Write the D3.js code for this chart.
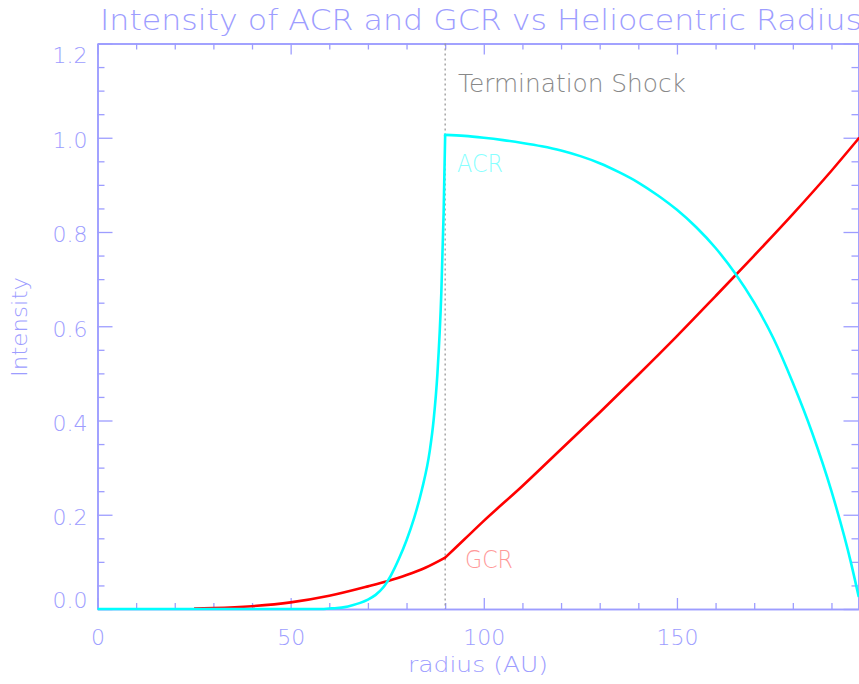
<!DOCTYPE html>
<html>
<head>
<meta charset="utf-8">
<script src="https://cdn.jsdelivr.net/npm/d3@7"></script>
<style>
  html, body { margin: 0; padding: 0; background: #fff; overflow: hidden; }
  svg { display: block; }
  text { font-family: "DejaVu Sans", sans-serif; font-weight: 200; }
</style>
</head>
<body>
<svg width="859" height="684"></svg>
<script>
// data
var acrRadius = [0, 50, 58, 60, 62, 64, 66, 68, 70, 72, 74, 76, 78, 80, 82, 84, 86, 87, 88, 89, 89.6, 90,
    95, 100, 105, 110, 115, 120, 125, 130, 135, 140, 145, 150, 155, 160, 165, 170, 175, 180, 185, 190, 195, 197]
var acrIntensity = [0, 0, 0, 0.001, 0.002, 0.004, 0.008, 0.013, 0.020, 0.030, 0.046, 0.072, 0.106, 0.146, 0.194, 0.254, 0.335, 0.40, 0.50, 0.67, 0.84, 1.006,
    1.004, 1.000, 0.995, 0.989, 0.982, 0.973, 0.961, 0.946, 0.927, 0.905, 0.878, 0.847, 0.810, 0.766, 0.713, 0.650, 0.574, 0.480, 0.374, 0.250, 0.100, 0.028]

var gcrRadius = [25, 30, 40, 50, 60, 70, 75, 80, 85, 90, 95, 100, 110, 120, 130, 140, 150, 160, 170, 180, 190, 197]
var gcrIntensity = [0.001, 0.002, 0.006, 0.014, 0.028, 0.048, 0.059, 0.072, 0.088, 0.109, 0.148, 0.187, 0.261, 0.339, 0.417, 0.497, 0.579, 0.664, 0.75, 0.838, 0.93, 0.998]

var xMajor = [0, 50, 100, 150]
var xMinor = [10, 20, 30, 40, 60, 70, 80, 90, 110, 120, 130, 140, 160, 170, 180, 190]
var yMajor = [0, 0.2, 0.4, 0.6, 0.8, 1.0, 1.2]
var yMinor = [0.05, 0.1, 0.15, 0.25, 0.3, 0.35, 0.45, 0.5, 0.55, 0.65, 0.7, 0.75, 0.85, 0.9, 0.95, 1.05, 1.1, 1.15]

// both curves change slope at the shock
var shockRadius = 90

var axisColor = '#9d9dff'
var svg = d3.select('svg')

var x = d3.scaleLinear().domain([0, 197]).range([97.5, 858.5])
var y = d3.scaleLinear().domain([0, 1.2]).range([609, 43.5])

// axes: bottom/left with labels, top/right mirrored without
function styleAxis(g) {
    g.select('.domain').attr('stroke', axisColor).attr('stroke-width', 1.5)
    g.selectAll('.tick line').attr('stroke', axisColor).attr('stroke-width', 1.3)
    g.selectAll('.tick text').attr('fill', axisColor).attr('font-size', 22)
        .style('font-family', '"DejaVu Sans", sans-serif').style('font-weight', 200)
}

var axisB = svg.append('g').attr('transform', 'translate(0,' + y(0) + ')')
axisB.call(d3.axisBottom(x).tickValues(xMinor).tickSize(-6).tickFormat('').tickSizeOuter(0)).call(styleAxis)
axisB.append('g').call(d3.axisBottom(x).tickValues(xMajor).tickSize(-11).tickPadding(20).tickFormat(d3.format('d')).tickSizeOuter(0)).call(styleAxis)

var axisT = svg.append('g').attr('transform', 'translate(0,' + y(1.2) + ')')
axisT.call(d3.axisTop(x).tickValues(xMinor).tickSize(-6).tickFormat('').tickSizeOuter(0)).call(styleAxis)
axisT.append('g').call(d3.axisTop(x).tickValues(xMajor).tickSize(-11).tickFormat('').tickSizeOuter(0)).call(styleAxis)

var axisL = svg.append('g').attr('transform', 'translate(' + x(0) + ',0)')
axisL.call(d3.axisLeft(y).tickValues(yMinor).tickSize(-7).tickFormat('').tickSizeOuter(0)).call(styleAxis)
axisL.append('g').call(d3.axisLeft(y).tickValues(yMajor).tickSize(-15).tickPadding(10).tickFormat(d3.format('.1f')).tickSizeOuter(0)).call(styleAxis)
axisL.selectAll('.tick text').attr('dy', function (d) {
    if (d === 0) return '-0.05em'
    if (d === 1.2) return '0.85em'
    return '0.45em'
})

var axisR = svg.append('g').attr('transform', 'translate(' + x(197) + ',0)')
axisR.call(d3.axisRight(y).tickValues(yMinor).tickSize(-7).tickFormat('').tickSizeOuter(0)).call(styleAxis)
axisR.append('g').call(d3.axisRight(y).tickValues(yMajor).tickSize(-15).tickFormat('').tickSizeOuter(0)).call(styleAxis)

// termination shock marker
svg.append('line')
    .attr('x1', x(shockRadius)).attr('x2', x(shockRadius))
    .attr('y1', y(1.2)).attr('y2', y(0))
    .attr('stroke', '#999').attr('stroke-width', 1.3)
    .attr('stroke-dasharray', '2,3')

var line = d3.line()
    .x(function (d) { return x(d[0]) })
    .y(function (d) { return y(d[1]) })
    .curve(d3.curveMonotoneX)

// draw inside and outside of the shock separately so the corner stays sharp
function drawSeries(radius, intensity, color) {
    var pts = radius.map(function (r, i) { return [r, intensity[i]] })
    var inner = pts.filter(function (d) { return d[0] <= shockRadius })
    var outer = pts.filter(function (d) { return d[0] >= shockRadius })
    svg.append('path').datum(inner).attr('d', line)
        .attr('fill', 'none').attr('stroke', color).attr('stroke-width', 2.6)
        .attr('stroke-linejoin', 'miter')
    svg.append('path').datum(outer).attr('d', line)
        .attr('fill', 'none').attr('stroke', color).attr('stroke-width', 2.6)
        .attr('stroke-linecap', 'square')
}
drawSeries(gcrRadius, gcrIntensity, '#ff0000')
drawSeries(acrRadius, acrIntensity, '#00ffff')

// labels
svg.append('text').text('Intensity of ACR and GCR vs Heliocentric Radius')
    .attr('x', 100).attr('y', 30).attr('font-size', 29).attr('fill', axisColor)
    .attr('textLength', 762).attr('lengthAdjust', 'spacingAndGlyphs')

svg.append('text').text('radius (AU)')
    .attr('x', 478).attr('y', 672).attr('text-anchor', 'middle')
    .attr('font-size', 22).attr('fill', axisColor)
    .attr('textLength', 140).attr('lengthAdjust', 'spacingAndGlyphs')

svg.append('text').text('Intensity')
    .attr('transform', 'translate(27,327) rotate(-90)').attr('text-anchor', 'middle')
    .attr('font-size', 22).attr('fill', axisColor)
    .attr('textLength', 100).attr('lengthAdjust', 'spacingAndGlyphs')

svg.append('text').text('Termination Shock')
    .attr('x', 458).attr('y', 92).attr('font-size', 24).attr('fill', '#888')
    .attr('textLength', 228).attr('lengthAdjust', 'spacingAndGlyphs')

svg.append('text').text('ACR')
    .attr('x', 457).attr('y', 172).attr('font-size', 24).attr('fill', '#88ffff')
    .attr('textLength', 46).attr('lengthAdjust', 'spacingAndGlyphs')

svg.append('text').text('GCR')
    .attr('x', 465).attr('y', 568).attr('font-size', 24).attr('fill', '#ff9999')
    .attr('textLength', 48).attr('lengthAdjust', 'spacingAndGlyphs')
</script>
</body>
</html>
